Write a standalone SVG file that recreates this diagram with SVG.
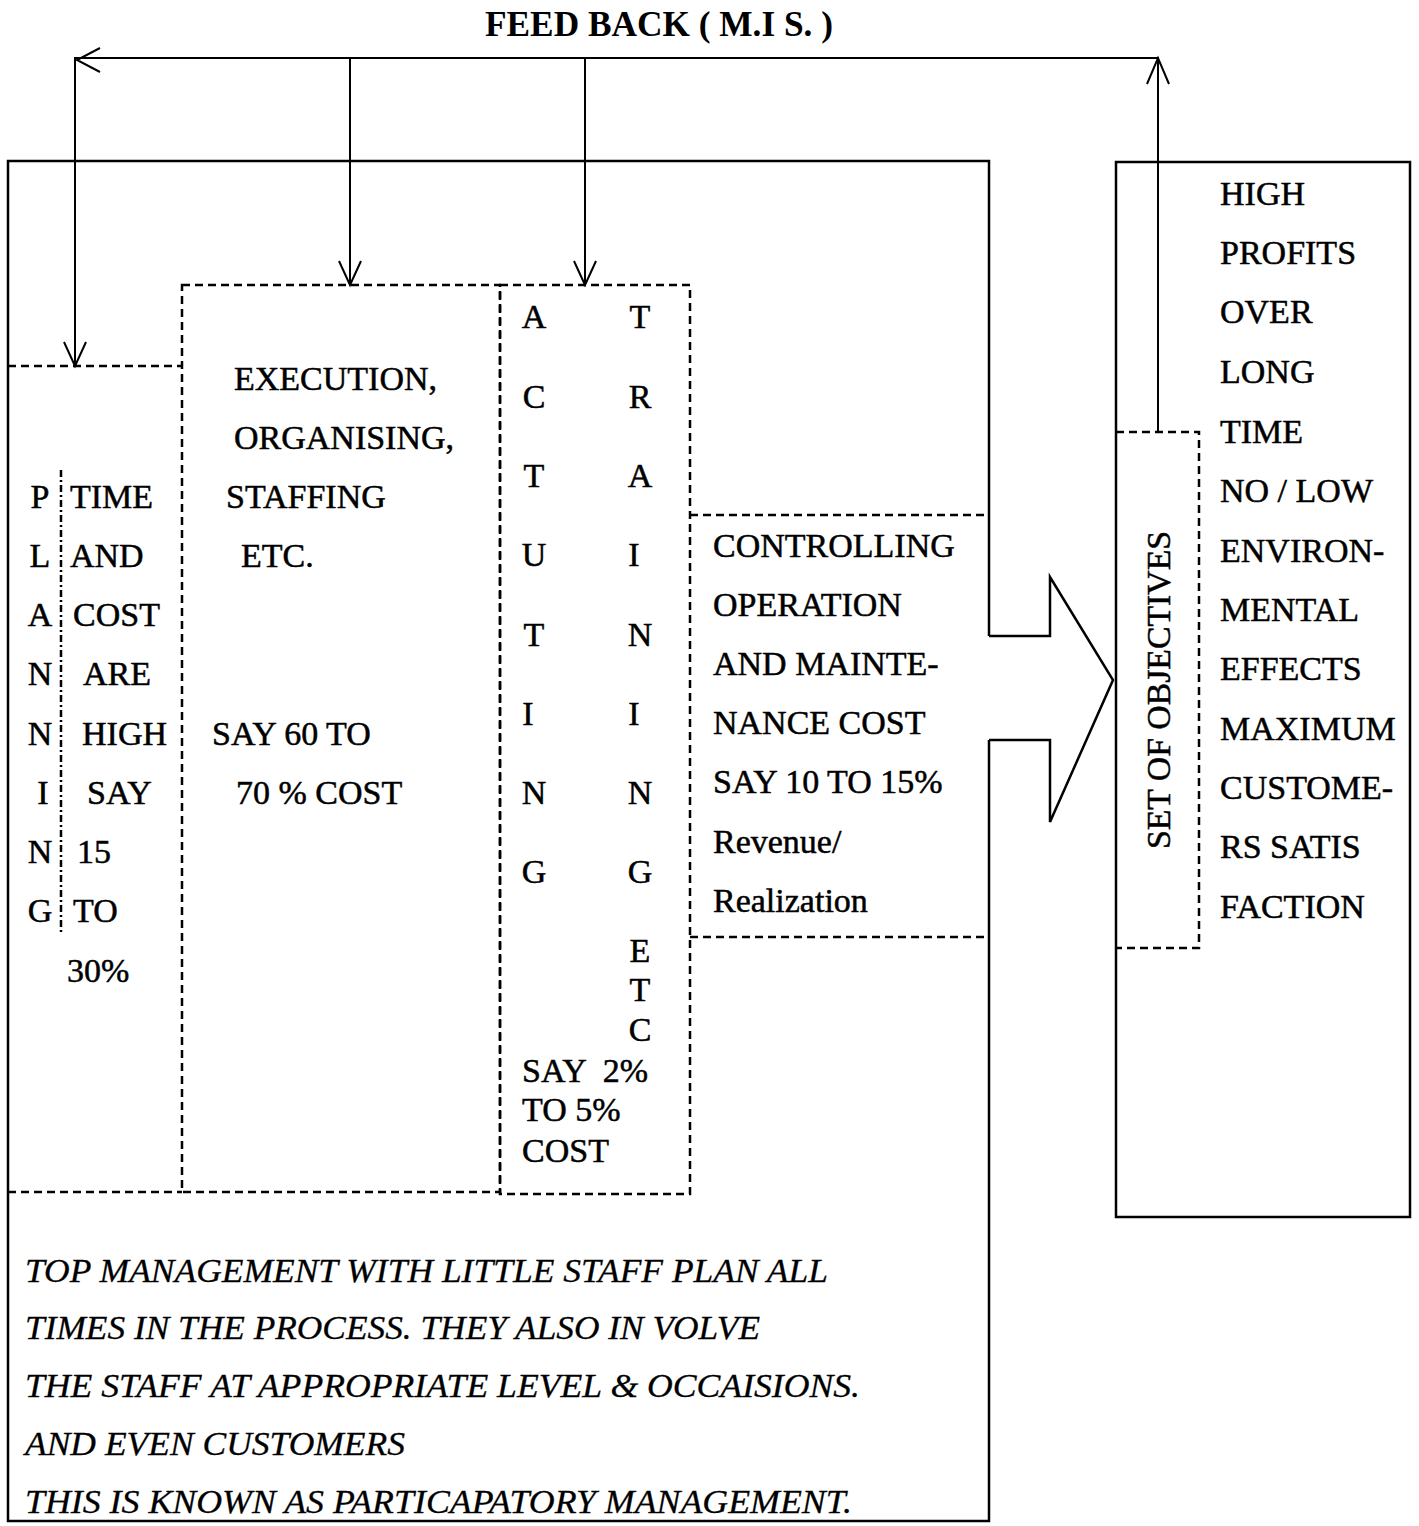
<svg xmlns="http://www.w3.org/2000/svg" width="1419" height="1526" viewBox="0 0 1419 1526">
<style>
.t{font-family:"Liberation Serif","Times New Roman",serif;font-size:34px;fill:#000;stroke:#000;stroke-width:0.5}
.it{font-family:"Liberation Serif","Times New Roman",serif;font-size:34px;font-style:italic;fill:#000;stroke:#000;stroke-width:0.3}
.b{font-family:"Liberation Serif","Times New Roman",serif;font-size:36px;font-weight:bold;fill:#000}
.solid{fill:none;stroke:#000;stroke-width:2.5}
.thin{fill:none;stroke:#000;stroke-width:2}
.dash{fill:none;stroke:#000;stroke-width:2.5;stroke-dasharray:8 5}
.dd{fill:none;stroke:#000;stroke-width:2.5;stroke-dasharray:7 3 2 3}
.mid{text-anchor:middle}
</style>
<rect width="1419" height="1526" fill="#fff"/>

<text class="b" x="485" y="36" textLength="348" lengthAdjust="spacingAndGlyphs">FEED BACK ( M.I S. )</text>

<g id="main-box">
<path class="solid" d="M989,636 V161 H8 V1521 H989 V740"/>
<path class="solid" d="M989,636 H1050 V577 L1113,680 L1050,822 V740 H989"/>
</g>

<g id="planning">
<path class="dash" d="M8,366 H182"/>
<path class="dd" d="M61,470 V935"/>
<path class="dash" d="M8,1192 H182"/>
<g class="t mid">
<text x="40" y="508">P</text>
<text x="40" y="567">L</text>
<text x="40" y="626">A</text>
<text x="40" y="685">N</text>
<text x="40" y="745">N</text>
<text x="43" y="804">I</text>
<text x="40" y="863">N</text>
<text x="40" y="922">G</text>
</g>
<g class="t">
<text x="70" y="508">TIME</text>
<text x="70" y="567">AND</text>
<text x="73" y="626">COST</text>
<text x="83" y="685">ARE</text>
<text x="82" y="745">HIGH</text>
<text x="87" y="804">SAY</text>
<text x="77" y="863">15</text>
<text x="73" y="922">TO</text>
<text x="67" y="982">30%</text>
</g>
</g>

<g id="execution">
<rect class="dash" x="182" y="285" width="318" height="907"/>
<g class="t">
<text x="234" y="390">EXECUTION,</text>
<text x="234" y="449">ORGANISING,</text>
<text x="226" y="508">STAFFING</text>
<text x="241" y="567">ETC.</text>
<text x="212" y="745">SAY 60 TO</text>
<text x="236" y="804">70 % COST</text>
</g>
</g>

<g id="acting-training">
<rect class="dash" x="500" y="285" width="190" height="909"/>
<g class="t mid">
<text x="534" y="328">A</text>
<text x="534" y="408">C</text>
<text x="534" y="487">T</text>
<text x="534" y="566">U</text>
<text x="534" y="646">T</text>
<text x="528" y="725">I</text>
<text x="534" y="804">N</text>
<text x="534" y="883">G</text>
<text x="640" y="328">T</text>
<text x="640" y="408">R</text>
<text x="640" y="487">A</text>
<text x="634" y="566">I</text>
<text x="640" y="646">N</text>
<text x="634" y="725">I</text>
<text x="640" y="804">N</text>
<text x="640" y="883">G</text>
<text x="640" y="962">E</text>
<text x="640" y="1001">T</text>
<text x="640" y="1041">C</text>
</g>
<g class="t">
<text x="522" y="1082" xml:space="preserve">SAY  2%</text>
<text x="522" y="1121">TO 5%</text>
<text x="522" y="1162">COST</text>
</g>
</g>

<g id="controlling">
<path class="dash" d="M690,515 H985 M690,937 H985"/>
<g class="t">
<text x="713" y="557">CONTROLLING</text>
<text x="713" y="616">OPERATION</text>
<text x="713" y="675">AND MAINTE-</text>
<text x="713" y="734">NANCE COST</text>
<text x="713" y="793">SAY 10 TO 15%</text>
<text x="713" y="853">Revenue/</text>
<text x="713" y="912">Realization</text>
</g>
</g>

<g id="objectives">
<rect class="solid" x="1116" y="162" width="294" height="1055"/>
<path class="dash" d="M1116,432 H1199 V948 H1116"/>
<text class="t mid" transform="translate(1170,690) rotate(-90)" textLength="318" lengthAdjust="spacingAndGlyphs">SET OF OBJECTIVES</text>
<g class="t">
<text x="1220" y="205">HIGH</text>
<text x="1220" y="264">PROFITS</text>
<text x="1220" y="323">OVER</text>
<text x="1220" y="383">LONG</text>
<text x="1220" y="443">TIME</text>
<text x="1220" y="502">NO / LOW</text>
<text x="1220" y="562">ENVIRON-</text>
<text x="1220" y="621">MENTAL</text>
<text x="1220" y="680">EFFECTS</text>
<text x="1220" y="740">MAXIMUM</text>
<text x="1220" y="799">CUSTOME-</text>
<text x="1220" y="858">RS SATIS</text>
<text x="1220" y="918">FACTION</text>
</g>
</g>

<g id="note">
<text class="it" x="25" y="1282" textLength="803" lengthAdjust="spacingAndGlyphs">TOP MANAGEMENT WITH LITTLE STAFF PLAN ALL</text>
<text class="it" x="25" y="1339" textLength="735" lengthAdjust="spacingAndGlyphs">TIMES IN THE PROCESS. THEY ALSO IN VOLVE</text>
<text class="it" x="25" y="1397" textLength="835" lengthAdjust="spacingAndGlyphs">THE STAFF AT APPROPRIATE LEVEL &amp; OCCAISIONS.</text>
<text class="it" x="25" y="1455" textLength="380" lengthAdjust="spacingAndGlyphs">AND EVEN CUSTOMERS</text>
<text class="it" x="25" y="1513" textLength="827" lengthAdjust="spacingAndGlyphs">THIS IS KNOWN AS PARTICAPATORY MANAGEMENT.</text>
</g>

<g id="connectors">
<path class="thin" d="M1158,432 V58 H75 V366"/>
<path class="thin" d="M350,58 V285 M585,58 V285"/>
<path class="thin" d="M1147,84 L1158,58 L1169,84"/>
<path class="thin" d="M100,48 L77,60 L100,72"/>
<path class="thin" d="M64,342 L75,366 L86,342"/>
<path class="thin" d="M339,261 L350,285 L361,261"/>
<path class="thin" d="M574,261 L585,285 L596,261"/>
</g>
</svg>
